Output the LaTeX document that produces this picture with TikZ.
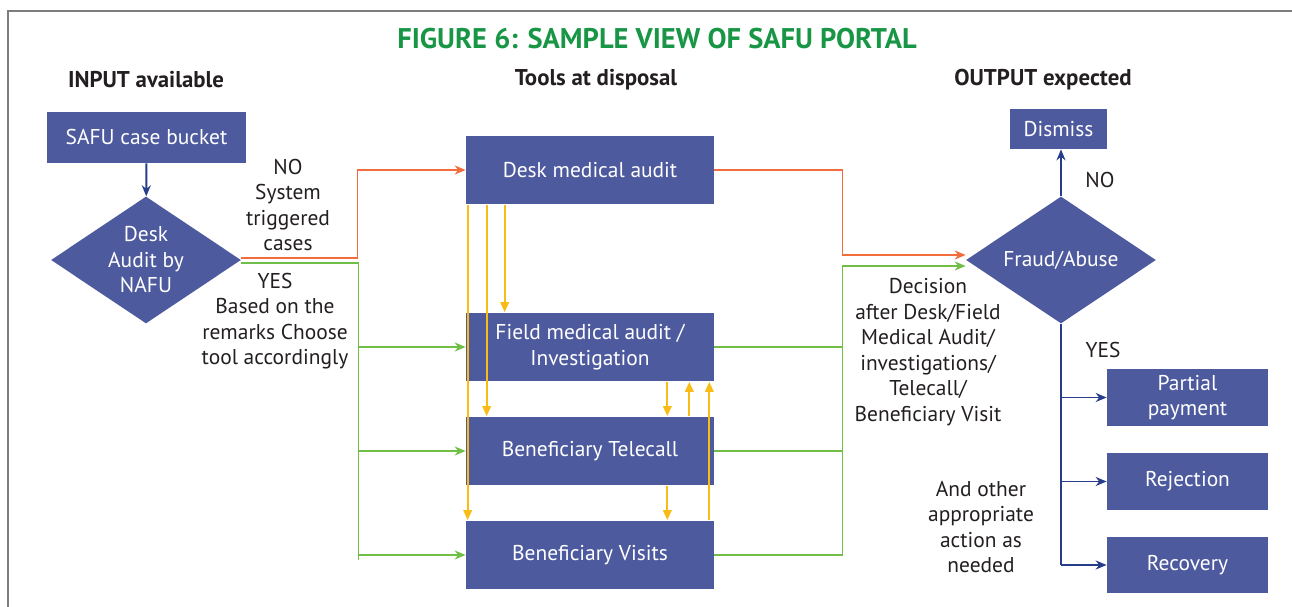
\documentclass[tikz,border=0pt]{standalone}
\usepackage{fontspec}
\setmainfont{PT Sans}
\usetikzlibrary{shapes.geometric,arrows.meta}

\definecolor{boxblue}{RGB}{78,90,158}
\definecolor{linkblue}{RGB}{40,60,140}
\definecolor{noorange}{RGB}{242,108,62}
\definecolor{yesgreen}{RGB}{112,190,72}
\definecolor{loopgold}{RGB}{248,188,20}
\definecolor{titlegreen}{RGB}{24,150,70}
\definecolor{inkgray}{RGB}{35,31,32}
\definecolor{framegray}{RGB}{125,125,125}

\begin{document}
\begin{tikzpicture}[x=0.02cm,y=-0.02cm,
    every node/.style={font=\fontsize{12.2}{14.5}\selectfont,text=inkgray},
    tool/.style={fill=boxblue,text=white,minimum width=4.96cm,minimum height=1.38cm,align=center,inner sep=1pt},
    outbox/.style={fill=boxblue,text=white,minimum width=3.22cm,minimum height=1.14cm,align=center,inner sep=1pt},
    choice/.style={diamond,fill=boxblue,text=white,shape aspect=1.5,minimum width=3.8cm,minimum height=2.54cm,inner sep=-3pt,align=center},
    note/.style={align=center,inner sep=0pt},
    head/.style={font=\fontsize{13}{15}\selectfont\bfseries},
    noline/.style={draw=noorange,line width=0.85pt},
    yesline/.style={draw=yesgreen,line width=0.85pt},
    goldarrow/.style={draw=loopgold,line width=1.1pt,-{Triangle[length=0.2cm,width=0.17cm]}},
    bluearrow/.style={draw=linkblue,line width=1.1pt,-{Stealth[length=0.22cm,width=0.18cm]}}]

    \useasboundingbox (0,0) rectangle (1292,607);
    \draw[framegray,line width=0.85pt] (8,607) -- (8,11) -- (1292,11);

    % titles
    \node[font=\fontsize{16.2}{19}\selectfont\bfseries,text=titlegreen] (title) at (657,39) {FIGURE 6: SAMPLE VIEW OF SAFU PORTAL};
    \node[head] (hin) at (146,80) {INPUT available};
    \node[head] (htool) at (596,80) {Tools at disposal};
    \node[head] (hout) at (1043,80) {OUTPUT expected};

    % input side
    \node[fill=boxblue,text=white,minimum width=3.98cm,minimum height=1.02cm] (bucket) at (146.5,137.5) {SAFU case bucket};
    \node[choice] (nafu) at (146,260) {Desk\\Audit by\\NAFU};
    \draw[bluearrow] (bucket) -- (nafu);

    % tools
    \node[tool] (desk) at (590,170) {Desk medical audit};
    \node[tool] (field) at (590,347) {Field medical audit /\\Investigation};
    \node[tool] (tele) at (590,451) {Beneficiary Telecall};
    \node[tool] (visit) at (590,555) {Beneficiary Visits};

    % output side
    \node[choice] (fraud) at (1061,260) {Fraud/Abuse};
    \node[fill=boxblue,text=white,minimum width=1.94cm,minimum height=0.8cm] (dismiss) at (1058.5,129) {Dismiss};
    \node[outbox] (partial) at (1187.5,397.5) {Partial\\payment};
    \node[outbox] (reject) at (1187.5,481.5) {Rejection};
    \node[outbox] (recov) at (1187.5,565) {Recovery};

    % labels
    \node[note] (nolabel) at (288,205) {NO\\System\\triggered\\cases};
    \node[note] (yeslabel) at (275,321) {YES\\Based on the\\remarks Choose\\tool accordingly};
    \node[note] (decision) at (928,352) {Decision\\after Desk/Field\\Medical Audit/\\investigations/\\Telecall/\\Beneficiary Visit};
    \node[note] (dismissno) at (1100,180) {NO};
    \node[note] (outyes) at (1103,350) {YES};
    \node[note] (other) at (981,527) {And other\\appropriate\\action as\\needed};

    % NO branch
    \draw[noline,-{Stealth[length=0.22cm,width=0.18cm]}] ([yshift=0.04cm]nafu.east) -- ++(116,0) |- (desk.west);
    \draw[noline,-{Stealth[length=0.22cm,width=0.18cm]}] (desk.east) -- ++(128,0) |- ([yshift=0.1cm]fraud.west);

    % YES branch
    \draw[yesline] ([yshift=-0.06cm]nafu.east) -- ++(117,0) coordinate (yessplit) -- ++(0,297);
    \foreach \t in {field,tele,visit}
        \draw[yesline,-{Stealth[length=0.22cm,width=0.18cm]}] (yessplit |- \t.west) -- (\t.west);
    \draw[yesline,-{Stealth[length=0.22cm,width=0.18cm]}] (visit.east) -- ++(128,0) coordinate (decsplit) |- ([yshift=-0.12cm]fraud.west);
    \foreach \t in {field,tele}
        \draw[yesline] (\t.east) -- (\t.east -| decsplit);

    % hand-overs between the tools
    \draw[goldarrow] ([xshift=0.78cm]desk.south west) -- ([xshift=0.78cm]field.north west);
    \draw[goldarrow] ([xshift=0.42cm]desk.south west) -- ([xshift=0.42cm]tele.north west);
    \draw[goldarrow] ([xshift=0.04cm]desk.south west) -- ([xshift=0.04cm]visit.north west);
    \draw[goldarrow] ([xshift=-0.94cm]field.south east) -- ([xshift=-0.94cm]tele.north east);
    \draw[goldarrow] ([xshift=-0.5cm]tele.north east) -- ([xshift=-0.5cm]field.south east);
    \draw[goldarrow] ([xshift=-0.94cm]tele.south east) -- ([xshift=-0.94cm]visit.north east);
    \draw[goldarrow] ([xshift=-0.1cm]visit.north east) -- ([xshift=-0.1cm]field.south east);

    % outcomes
    \draw[bluearrow] (fraud.north) -- (dismiss.south -| fraud.north);
    \draw[draw=linkblue,line width=1.1pt] (fraud.south) -- (fraud.south |- recov.west);
    \foreach \t in {partial,reject,recov}
        \draw[bluearrow] (fraud.south |- \t.west) -- (\t.west);
\end{tikzpicture}
\end{document}
